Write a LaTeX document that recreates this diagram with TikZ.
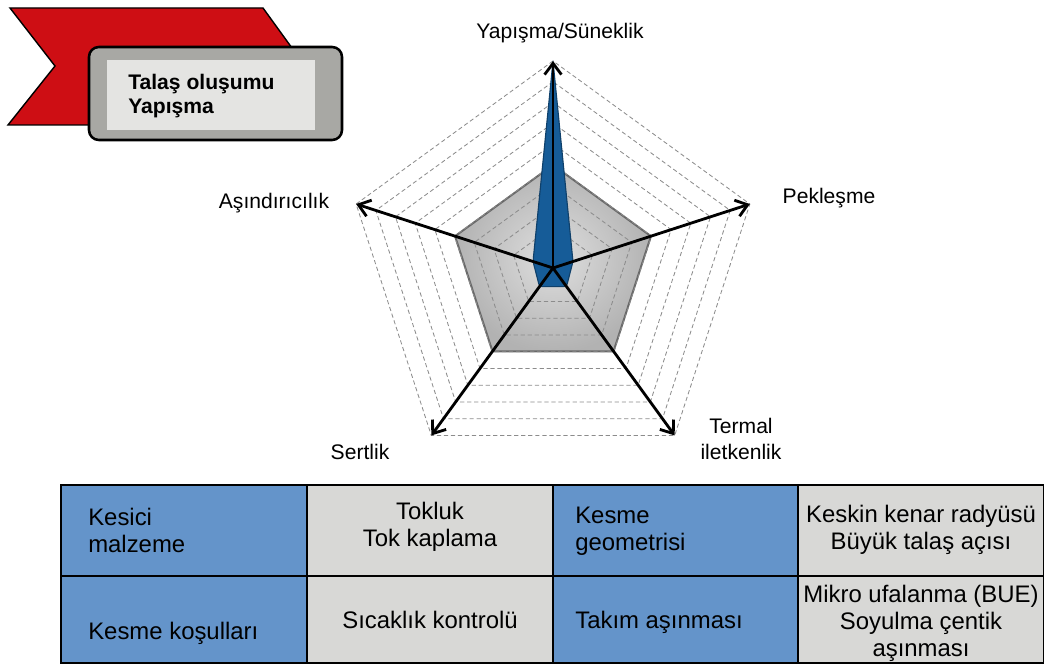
\documentclass[tikz,border=0pt]{standalone}
\usepackage{fontspec}
\setmainfont{Liberation Sans}
\usetikzlibrary{arrows.meta}
\definecolor{ribbonred}{RGB}{206,14,20}
\definecolor{tagframe}{RGB}{168,168,164}
\definecolor{tagface}{RGB}{228,228,226}
\definecolor{chartedge}{RGB}{105,105,105}
\definecolor{chartblue}{RGB}{22,92,152}
\definecolor{cellblue}{RGB}{100,148,202}
\definecolor{cellgray}{RGB}{216,216,214}

\begin{document}
\begin{tikzpicture}[x=0.025cm, y=0.025cm,
  gridline/.style={gray!90, line width=0.6pt, densely dashed},
  axisline/.style={line width=2pt, -{Straight Barb[length=8pt,width=12pt]}},
  axislabel/.style={font=\fontsize{15}{18.4}\selectfont, inner sep=0pt},
  celltext/.style={font=\fontsize{17}{19.2}\selectfont, inner sep=0pt}]
\useasboundingbox (0,0) rectangle (1044,666);

\draw[fill=ribbonred, line width=1pt] (10,658) -- (263,658) -- (305,600) -- (263,541) -- (8,541) -- (55,600) -- cycle;
\draw[fill=tagframe, line width=1.8pt, rounded corners=7] (89,526) rectangle (342,619);
\fill[tagface] (107,536) rectangle (315,606);
\node[anchor=west, align=left, inner sep=0pt, font=\fontsize{15}{17.7}\selectfont\bfseries] (tag) at (128,570) {Talaş oluşumu\\Yapışma};

\begin{scope}[shift={(553,398)}]
\coordinate (o) at (0,0);
\coordinate (ys) at (90:207);
\coordinate (pk) at (18:207);
\coordinate (tl) at (306:207);
\coordinate (st) at (234:207);
\coordinate (as) at (162:207);
\shade[inner color=gray!25, outer color=gray!60] (90:103) -- (162:103) -- (234:103) -- (306:103) -- (18:103) -- cycle;
\draw[chartedge, line width=1.4pt] (90:103) -- (162:103) -- (234:103) -- (306:103) -- (18:103) -- cycle;
\foreach \k in {1,...,10}
  \draw[gridline] (90:{\k*20.7}) -- (162:{\k*20.7}) -- (234:{\k*20.7}) -- (306:{\k*20.7}) -- (18:{\k*20.7}) -- cycle;
\filldraw[fill=chartblue, draw=chartblue!70!black, line width=0.8pt, rounded corners=2pt] (90:207) -- (162:21) -- (234:23) -- (306:23) -- (18:21) -- cycle;
\foreach \v in {ys,pk,tl,st,as}
  \draw[axisline] (o) -- (\v);
\end{scope}

\node[axislabel] (lys) at (560,633) {Yapışma/Süneklik};
\node[axislabel] (las) at (274,463) {Aşındırıcılık};
\node[axislabel] (lpk) at (829,468) {Pekleşme};
\node[axislabel] (lst) at (360,214) {Sertlik};
\node[axislabel, align=center] (ltl) at (741,227) {Termal\\iletkenlik};

\fill[cellblue] (61,3) rectangle (307,181);
\fill[cellgray] (307,3) rectangle (553,181);
\fill[cellblue] (553,3) rectangle (798,181);
\fill[cellgray] (798,3) rectangle (1044,181);
\draw[line width=1.8pt] (61,3) rectangle (1044,181);
\draw[line width=1.8pt] (61,90) -- (1044,90);
\draw[line width=1.8pt] (307,3) -- (307,181);
\draw[line width=1.8pt] (553,3) -- (553,181);
\draw[line width=1.8pt] (798,3) -- (798,181);

\node[celltext, anchor=west, align=left] (kesici) at (88,136) {Kesici\\malzeme};
\node[celltext, align=center] (tokluk) at (430,139) {Tokluk\\Tok kaplama};
\node[celltext, anchor=west, align=left] (geometri) at (575,135) {Kesme\\geometrisi};
\node[celltext, align=center] (keskin) at (921,136) {Keskin kenar radyüsü\\Büyük talaş açısı};
\node[celltext, anchor=west] (kosul) at (88,33) {Kesme koşulları};
\node[celltext] (sicaklik) at (430,46) {Sıcaklık kontrolü};
\node[celltext, anchor=west] (takim) at (575,44) {Takım aşınması};
\node[celltext, align=center] (mikro) at (921,43) {Mikro ufalanma (BUE)\\Soyulma çentik\\aşınması};
\end{tikzpicture}
\end{document}
